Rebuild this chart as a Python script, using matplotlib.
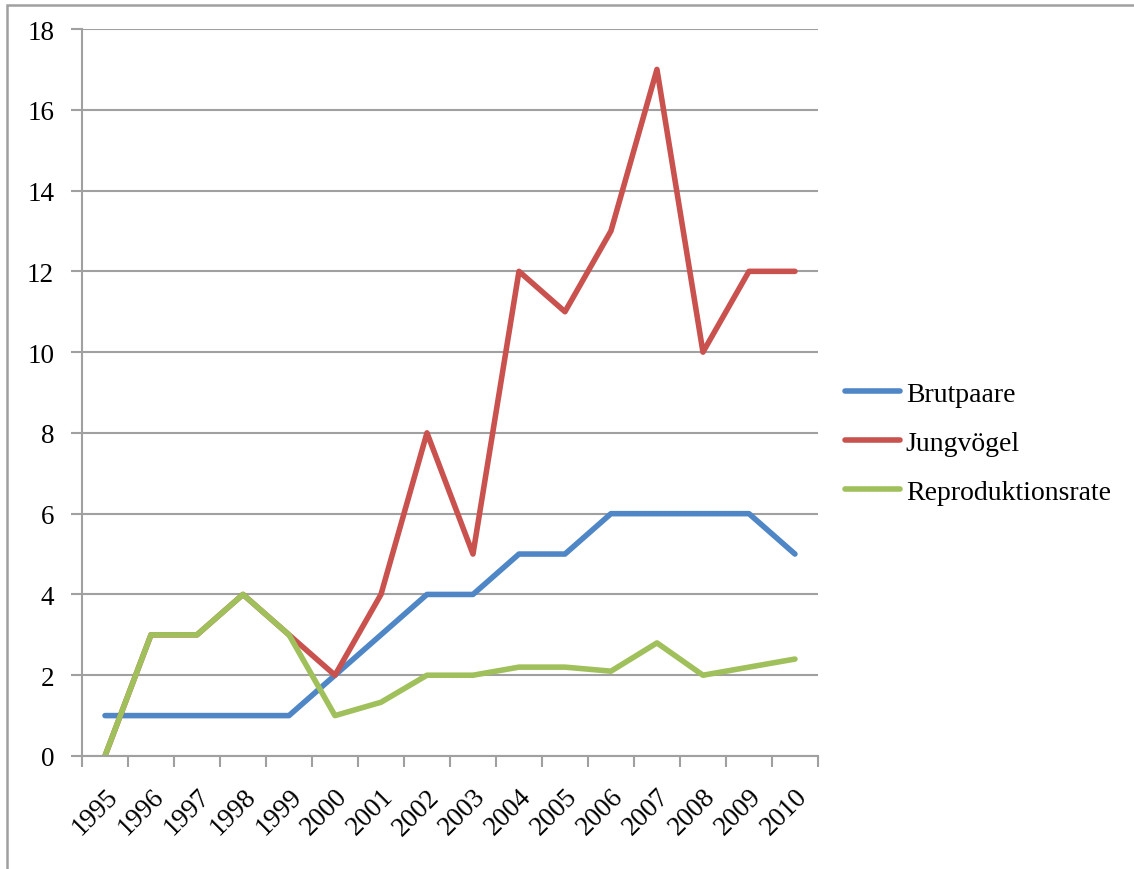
import matplotlib.pyplot as plt
from matplotlib.patches import Rectangle
import numpy as np

plt.rcParams['font.family'] = ['Liberation Serif', 'DejaVu Serif']

years = ['1995', '1996', '1997', '1998', '1999', '2000', '2001', '2002',
         '2003', '2004', '2005', '2006', '2007', '2008', '2009', '2010']
brutpaare = [1, 1, 1, 1, 1, 2, 3, 4, 4, 5, 5, 6, 6, 6, 6, 5]
jungvoegel = [0, 3, 3, 4, 3, 2, 4, 8, 5, 12, 11, 13, 17, 10, 12, 12]
reproduktion = [0, 3, 3, 4, 3, 1, 1.33, 2, 2, 2.2, 2.2, 2.1, 2.8, 2, 2.2, 2.4]

fig = plt.figure(figsize=(11.34, 8.70), dpi=100)
ax = fig.add_axes([0.0723, 0.1299, 0.6490, 0.8356])

# Rahmen um das ganze Diagramm (rechts und unten abgeschnitten)
fig.patches.append(Rectangle((7 / 1134, -0.05), 1.1, 1 - 6 / 870 + 0.05,
                             transform=fig.transFigure, fill=False,
                             edgecolor='#a0a0a0', lw=1.8))

x = np.arange(len(years))
grey = '#a0a0a0'
lw = 4.0
ax.plot(x, brutpaare, color='#4f86c6', lw=lw, label='Brutpaare',
        solid_capstyle='round')
ax.plot(x, jungvoegel, color='#c9524f', lw=lw, label='Jungvögel',
        solid_capstyle='round')
ax.plot(x, reproduktion, color='#9fc05a', lw=lw, label='Reproduktionsrate',
        solid_capstyle='round')

ax.set_xlim(-0.5, len(years) - 0.5)
ax.set_ylim(0, 18)
ax.set_yticks(np.arange(0, 19, 2))
ax.yaxis.grid(True, color=grey, lw=1.5)
ax.set_axisbelow(True)

ax.set_xticks(np.arange(-0.5, len(years), 1))
ax.set_xticklabels([])
ax.set_xticks(x, minor=True)
ax.set_xticklabels(years, minor=True, rotation=45, ha='right',
                   rotation_mode='anchor', fontsize=19.5)
ax.tick_params(axis='x', which='minor', length=0, pad=20)
ax.tick_params(axis='x', which='major', length=8, width=1.5, color=grey)
ax.tick_params(axis='y', length=8, width=1.5, color=grey, labelsize=19.5, pad=12)

for s in ['top', 'right']:
    ax.spines[s].set_visible(False)
for s in ['left', 'bottom']:
    ax.spines[s].set_color(grey)
    ax.spines[s].set_linewidth(1.5)

ax.legend(loc='center left', bbox_to_anchor=(1.01, 0.43), frameon=False,
          fontsize=20, handlelength=2.0, handletextpad=0.2, labelspacing=0.85,
          borderaxespad=0.3)

fig.savefig('out.png', dpi=100)
